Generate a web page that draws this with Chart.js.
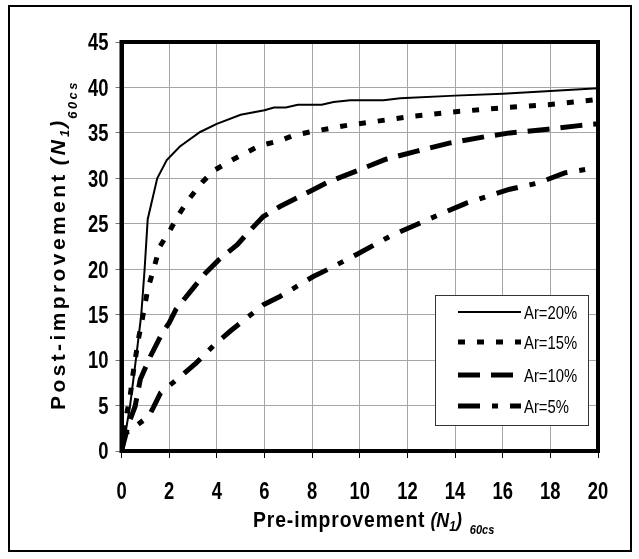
<!DOCTYPE html>
<html>
<head>
<meta charset="utf-8">
<script src="https://cdn.jsdelivr.net/npm/chart.js@4/dist/chart.umd.min.js"></script>
<style>
  html, body { margin: 0; padding: 0; background: #fff; }
</style>
</head>
<body>
<canvas id="grafico" width="639" height="559"></canvas>
<script>
// ---------------- DADOS ----------------
const xTicks = [0, 2, 4, 6, 8, 10, 12, 14, 16, 18, 20];
const yTicks = [0, 5, 10, 15, 20, 25, 30, 35, 40, 45];
const legendLabels = ["Ar=20%", "Ar=15%", "Ar=10%", "Ar=5%"];

// Ar=20%
const x20 = [0, 0.2, 0.36, 0.6, 0.83, 0.97, 1.1, 1.5, 1.9, 2.45, 3.3, 4, 5, 6, 6.4, 6.9, 7.4, 8.4, 8.9, 9.6, 10, 11, 11.7, 14, 16, 18, 20];
const y20 = [0, 2.5, 5, 10, 15, 20, 25.5, 30, 32, 33.5, 35.1, 36, 37, 37.5, 37.8, 37.8, 38.1, 38.1, 38.4, 38.6, 38.6, 38.6, 38.8, 39.1, 39.3, 39.6, 39.9];

// Ar=15%
const x15 = [0, 0.14, 0.36, 0.5, 0.71, 0.9, 1.11, 1.36, 1.61, 2.04, 2.4, 2.8, 3.4, 3.9, 4.7, 5.8, 6.6, 7.2, 7.9, 9.4, 10.5, 12.1, 13.9, 16.2, 17.9, 19.4, 20];
const y15 = [0, 3, 6, 8.8, 12.3, 14.9, 17.9, 20.1, 22.5, 24.3, 26, 27.6, 29.6, 30.9, 32.1, 33.6, 34.1, 34.7, 35.1, 35.8, 36.2, 36.8, 37.3, 37.8, 38.1, 38.5, 38.7];

// Ar=10%
const x10 = [0, 0.3, 0.57, 0.79, 1.21, 1.71, 2, 2.29, 3, 3.5, 4.07, 4.86, 5.3, 5.95, 6.65, 7.94, 8.6, 9.85, 11.1, 12.4, 13.8, 15.3, 16.3, 17.9, 19.2, 20];
const y10 = [0, 3, 4.9, 7.9, 10.4, 13, 14.1, 15.6, 17.9, 19.5, 21, 22.7, 24, 25.8, 26.9, 28.6, 29.5, 30.8, 32.1, 33, 33.9, 34.6, 35, 35.4, 35.8, 36];

// Ar=5%
const x5 = [0, 0.14, 0.57, 1.14, 1.36, 1.64, 2.57, 3.14, 3.86, 4.57, 5.96, 6.65, 8.05, 8.6, 9.85, 11.25, 12.8, 13.5, 14.5, 16.3, 17.5, 18.6, 20];
const y5 = [0, 1.9, 2.7, 3.8, 4.9, 6.4, 8.4, 9.7, 11.6, 13.2, 16.1, 17, 19.2, 19.9, 21.6, 23.6, 25.4, 26.2, 27.3, 28.8, 29.5, 30.6, 31.2];

const pontos = (xs, ys) => xs.map((x, i) => ({ x: x, y: ys[i] }));

// estilos das linhas (mesma ordem da legenda)
const estilos = [
  { width: 2, dash: [] },
  { width: 5, dash: [7, 12] },
  { width: 5, dash: [22, 11] },
  { width: 5, dash: [22, 12, 6, 12] }
];

const FONTE = "'Liberation Sans', Arial, sans-serif";

// desenha pedaços de texto letra a letra (espaçamento, compressão, subscritos)
function desenharPartes(ctx, partes) {
  let x = 0;
  partes.forEach(p => {
    const sx = p.sx || 1;
    const esp = p.spacing || 0;
    x += p.gap || 0;
    ctx.font = p.font;
    for (const ch of p.text) {
      ctx.save();
      ctx.translate(x, p.dy || 0);
      ctx.scale(sx, 1);
      ctx.fillText(ch, 0, 0);
      ctx.restore();
      x += (ctx.measureText(ch).width + esp) * sx;
    }
  });
}

// texto comprimido na horizontal (tipo Arial Narrow)
function textoEstreito(ctx, txt, x, y, escala) {
  ctx.save();
  ctx.translate(x, y);
  ctx.scale(escala, 1);
  ctx.fillText(txt, 0, 0);
  ctx.restore();
}

// ---------------- PLUGIN: MOLDURA, TÍTULOS, LEGENDA ----------------
const extras = {
  id: "extras",
  beforeDraw(chart) {
    const ctx = chart.ctx;
    ctx.save();
    ctx.fillStyle = "#fff";
    ctx.fillRect(0, 0, chart.width, chart.height);
    ctx.strokeStyle = "#000";
    ctx.lineWidth = 2;
    ctx.strokeRect(9, 6, 622, 545);
    ctx.restore();
  },
  afterDraw(chart) {
    const ctx = chart.ctx;
    const a = chart.chartArea;
    const sx = chart.scales.x;
    const sy = chart.scales.y;

    ctx.save();

    // borda da área do gráfico
    ctx.strokeStyle = "#000";
    ctx.lineWidth = 4;
    ctx.strokeRect(a.left, a.top, a.right - a.left, a.bottom - a.top);

    // rótulos dos ticks
    ctx.fillStyle = "#000";
    ctx.font = "bold 23px " + FONTE;
    ctx.textBaseline = "alphabetic";
    ctx.textAlign = "center";
    xTicks.forEach(v => {
      textoEstreito(ctx, String(v), sx.getPixelForValue(v), 498.5, 0.8);
    });
    ctx.textAlign = "right";
    yTicks.forEach(v => {
      textoEstreito(ctx, String(v), 108.5, sy.getPixelForValue(v) + 8.3, 0.8);
    });

    // título do eixo X
    ctx.textAlign = "left";
    ctx.save();
    ctx.translate(253, 527);
    desenharPartes(ctx, [
      { text: "Pre-improvement", font: "bold 22px " + FONTE, spacing: 1, sx: 0.88 },
      { text: "(N", font: "italic bold 21px " + FONTE, sx: 0.85, gap: 5 },
      { text: "1", font: "italic bold 14px " + FONTE, sx: 0.85, dy: 4 },
      { text: ")", font: "italic bold 21px " + FONTE, sx: 0.85 },
      { text: "60cs", font: "italic bold 13px " + FONTE, sx: 0.85, dy: 7, gap: 8 }
    ]);
    ctx.restore();

    // título do eixo Y
    ctx.save();
    ctx.translate(65, 410);
    ctx.rotate(-Math.PI / 2);
    desenharPartes(ctx, [
      { text: "Post-improvement", font: "bold 21px " + FONTE, spacing: 3.4 },
      { text: "(N", font: "italic bold 21px " + FONTE, spacing: 3, gap: 6 },
      { text: "1", font: "italic bold 13px " + FONTE, dy: 4, spacing: 2 },
      { text: ")", font: "italic bold 21px " + FONTE, spacing: 2 },
      { text: "60cs", font: "italic bold 13px " + FONTE, dy: 12, spacing: 2.5 }
    ]);
    ctx.restore();

    // legenda
    const bx = 435, by = 295, bw = 153, bh = 130;
    ctx.fillStyle = "#fff";
    ctx.fillRect(bx, by, bw, bh);
    ctx.strokeStyle = "#333";
    ctx.lineWidth = 1;
    ctx.strokeRect(bx + 0.5, by + 0.5, bw, bh);

    const linhasY = [312, 342, 375, 406];
    legendLabels.forEach((txt, i) => {
      const y = linhasY[i];
      ctx.strokeStyle = "#000";
      ctx.lineWidth = estilos[i].width;
      ctx.setLineDash(estilos[i].dash);
      ctx.beginPath();
      ctx.moveTo(458, y);
      ctx.lineTo(521, y);
      ctx.stroke();
      ctx.setLineDash([]);

      ctx.fillStyle = "#000";
      ctx.font = "19px " + FONTE;
      ctx.textBaseline = "alphabetic";
      ctx.textAlign = "left";
      textoEstreito(ctx, txt, 524, y + 7, 0.78);
    });
    ctx.restore();
  }
};

// ---------------- GRÁFICO ----------------
new Chart(
  document.getElementById("grafico"),
  {
    type: "scatter",

    data: {
      datasets: [
        { label: legendLabels[0], data: pontos(x20, y20) },
        { label: legendLabels[1], data: pontos(x15, y15) },
        { label: legendLabels[2], data: pontos(x10, y10) },
        { label: legendLabels[3], data: pontos(x5, y5) }
      ].map((d, i) => Object.assign(d, {
        showLine: true,
        borderColor: "#000",
        backgroundColor: "#000",
        borderWidth: estilos[i].width,
        borderDash: estilos[i].dash,
        pointRadius: 0,
        tension: 0
      }))
    },

    options: {
      responsive: false,
      animation: false,
      devicePixelRatio: 1,
      layout: {
        padding: { left: 0, top: 42, right: 41, bottom: 0 }
      },
      plugins: {
        legend: { display: false },
        tooltip: { enabled: false }
      },
      scales: {
        x: {
          type: "linear",
          min: 0,
          max: 20,
          afterFit: s => { s.height = 108; },
          afterBuildTicks: s => { s.ticks = xTicks.map(v => ({ value: v })); },
          ticks: { display: false },
          grid: {
            color: "#a6a6a6",
            lineWidth: 1,
            tickColor: "#000",
            tickLength: 7
          },
          border: { color: "#000", width: 4 }
        },
        y: {
          type: "linear",
          min: 0,
          max: 45,
          afterFit: s => { s.width = 121.5; },
          afterBuildTicks: s => { s.ticks = yTicks.map(v => ({ value: v })); },
          ticks: { display: false },
          grid: {
            color: "#a6a6a6",
            lineWidth: 1,
            tickColor: "#777",
            tickLength: 6
          },
          border: { color: "#000", width: 4 }
        }
      }
    },

    plugins: [extras]
  }
);
</script>
</body>
</html>
